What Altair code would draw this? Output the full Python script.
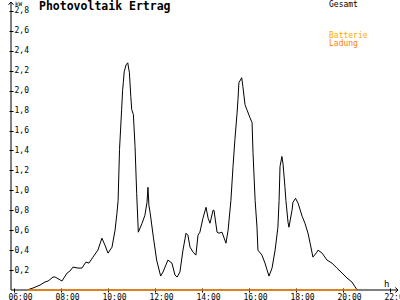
import altair as alt
import pandas as pd

# ---- data ----
hours = [6.55, 6.81, 7.11, 7.32, 7.45, 7.66, 7.75, 8.04, 8.26, 8.38, 8.51, 8.72, 8.89, 9.06, 9.19, 9.36,
         9.57, 9.74, 9.87, 10.00, 10.17, 10.30, 10.38, 10.43, 10.49, 10.58, 10.62, 10.65, 10.69, 10.77,
         10.84, 10.91, 10.97, 11.01, 11.08, 11.15, 11.22, 11.29, 11.45, 11.57, 11.66, 11.70, 11.74, 11.79,
         11.93, 12.07, 12.24, 12.34, 12.55, 12.72, 12.85, 12.94, 13.06, 13.19, 13.32, 13.40, 13.49, 13.62,
         13.74, 13.83, 13.91, 14.04, 14.17, 14.26, 14.34, 14.47, 14.51, 14.64, 14.72, 14.85, 15.02, 15.11,
         15.23, 15.32, 15.40, 15.49, 15.53, 15.57, 15.69, 15.74, 15.83, 15.91, 16.04, 16.13, 16.17, 16.26,
         16.34, 16.38, 16.55, 16.68, 16.77, 16.85, 16.98, 17.11, 17.23, 17.28, 17.32, 17.40, 17.45, 17.53,
         17.57, 17.66, 17.70, 17.83, 17.87, 17.98, 18.09, 18.26, 18.38, 18.51, 18.60, 18.72, 18.89, 18.94,
         19.11, 19.32, 19.53, 19.74, 19.96, 20.17, 20.38, 20.60]
kw = [0.00, 0.02, 0.05, 0.08, 0.09, 0.13, 0.13, 0.09, 0.17, 0.19, 0.23, 0.22, 0.22, 0.28, 0.27, 0.33,
      0.40, 0.52, 0.45, 0.37, 0.43, 0.60, 0.77, 0.90, 1.41, 1.81, 2.00, 2.08, 2.19, 2.26,
      2.28, 2.18, 1.94, 1.81, 1.76, 1.44, 0.97, 0.58, 0.67, 0.75, 0.88, 1.03, 0.85, 0.78,
      0.53, 0.30, 0.14, 0.18, 0.30, 0.27, 0.15, 0.13, 0.18, 0.40, 0.57, 0.55, 0.43, 0.38,
      0.35, 0.55, 0.58, 0.72, 0.83, 0.72, 0.67, 0.80, 0.80, 0.58, 0.57, 0.58, 0.47, 0.60,
      0.90, 1.24, 1.51, 1.77, 1.91, 2.08, 2.13, 2.04, 1.86, 1.81, 1.73, 1.68, 1.38, 0.90,
      0.63, 0.40, 0.35, 0.27, 0.20, 0.14, 0.22, 0.40, 0.63, 0.90, 1.24, 1.34, 1.26, 1.03,
      0.90, 0.68, 0.63, 0.80, 0.88, 0.92, 0.87, 0.74, 0.67, 0.57, 0.47, 0.33, 0.38, 0.40,
      0.37, 0.30, 0.27, 0.22, 0.17, 0.12, 0.08, 0.00]

bat_hours = [6.55, 20.60]
bat_kw = [0.0, 0.0]

x_ticks = [6, 8, 10, 12, 14, 16, 18, 20, 22]
y_ticks = [0.2, 0.4, 0.6, 0.8, 1.0, 1.2, 1.4, 1.6, 1.8, 2.0, 2.2, 2.4, 2.6, 2.8]

title_text = "Photovoltaik Ertrag"
legend_texts = ["Gesamt", "Batterie", "Ladung"]
legend_colors = ["#000000", "#FFA800", "#FF8000"]

X_MIN, X_MAX = 5.872, 22.34
Y_MAX = 2.89
FONT = "DejaVu Sans Mono"

xs = alt.Scale(domain=[X_MIN, X_MAX], nice=False, zero=False)
ys = alt.Scale(domain=[0, Y_MAX], nice=False, zero=True)

df = pd.DataFrame({"h": hours, "kw": kw})
bat = pd.DataFrame({"h": bat_hours, "kw": bat_kw})

x_axis = alt.Axis(values=x_ticks, labelExpr="(datum.value < 10 ? '0' : '') + datum.value + ':00'",
                  domain=False, offset=-2, tickSize=4, tickColor="black", grid=False, title=None,
                  labelFont=FONT, labelFontSize=8, labelColor="black", labelPadding=1,
                  labelOffset=6, labelFlush=False, labelOverlap=False, labelBound=False)
y_axis = alt.Axis(values=y_ticks, labelExpr="replace(format(datum.value, '.1f'), '.', ',')",
                  domain=False, offset=-2, tickSize=4, tickColor="black", grid=False, title=None,
                  labelFont=FONT, labelFontSize=8, labelColor="black", labelAlign="left",
                  labelBaseline="middle", labelPadding=-5, labelFlush=False, labelOverlap=False,
                  labelBound=False)


def X(field):
    return alt.X(field, scale=xs, axis=x_axis)


def Y(field):
    return alt.Y(field, scale=ys, axis=y_axis)


axes_df = pd.DataFrame({"x": [X_MIN, X_MIN], "x2": [X_MAX, X_MIN], "y": [0.0, 0.0], "y2": [0.0, Y_MAX]})
axes = alt.Chart(axes_df).mark_rule(color="black", strokeWidth=1).encode(
    x=X("x:Q"), x2="x2", y=Y("y:Q"), y2="y2")

line = alt.Chart(df).mark_line(color="black", strokeWidth=1, interpolate="linear").encode(
    x=X("h:Q"), y=Y("kw:Q"))

bat_line = alt.Chart(bat).mark_line(color="#FF8000", strokeWidth=1.5).encode(
    x=X("h:Q"), y=Y("kw:Q"))

arrow_up = alt.Chart(pd.DataFrame({"x": [X_MIN], "y": [Y_MAX]})).mark_point(
    shape="M-1,1.1L0,0L1,1.1", size=25, filled=False, color="black", strokeWidth=1, opacity=1).encode(
    x=X("x:Q"), y=Y("y:Q"))
arrow_right = alt.Chart(pd.DataFrame({"x": [X_MAX], "y": [0.0]})).mark_point(
    shape="M-1.1,-1L0,0L-1.1,1", size=25, filled=False, color="black", strokeWidth=1, opacity=1).encode(
    x=X("x:Q"), y=Y("y:Q"))

title = alt.Chart(pd.DataFrame({"t": [title_text]})).mark_text(
    font=FONT, fontSize=11.5, fontWeight="bold", align="left", baseline="middle", color="black").encode(
    x=alt.value(28), y=alt.value(5), text="t:N")

leg_df = pd.DataFrame({"t": legend_texts, "c": legend_colors, "ypos": [2.5, 34, 42]})
legend = alt.Chart(leg_df).mark_text(font=FONT, fontSize=8, align="left", baseline="middle").encode(
    x=alt.value(318), y=alt.Y("ypos:Q", scale=None), text="t:N", color=alt.Color("c:N", scale=None))

unit_kw = alt.Chart(pd.DataFrame({"t": ["kW"]})).mark_text(
    font=FONT, fontSize=6, align="left", baseline="middle", color="black").encode(
    x=alt.value(4), y=alt.value(1.5), text="t:N")
unit_h = alt.Chart(pd.DataFrame({"t": ["h"]})).mark_text(
    font=FONT, fontSize=9, align="left", baseline="middle", color="black").encode(
    x=alt.value(373), y=alt.value(282), text="t:N")

chart = alt.layer(axes, line, bat_line, arrow_up, arrow_right, title, legend, unit_kw, unit_h).properties(
    width=387, height=288, autosize=alt.AutoSizeParams(type="none"),
    padding={"left": 11, "top": 2, "right": 2, "bottom": 10}, background="white",
).configure_view(stroke=None)

chart.save("out.html", embed_options={"renderer": "svg", "actions": False})
